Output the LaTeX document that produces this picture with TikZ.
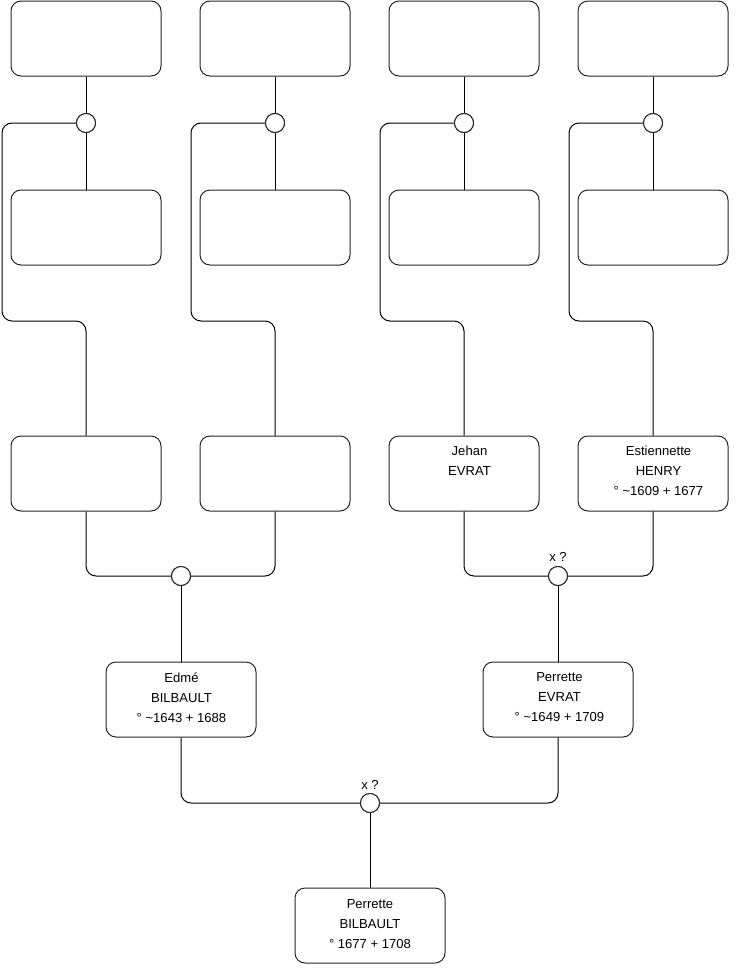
\documentclass[tikz,border=0pt]{standalone}
\usepackage{fontspec}
\setmainfont{Liberation Sans}
\usetikzlibrary{calc}
\begin{document}
\begin{tikzpicture}[x=0.75pt,y=-0.75pt,
  line width=0.75pt,
  person/.style={draw=black!85, rounded corners=7.5pt, minimum width=112.5pt, minimum height=56.25pt, inner sep=0pt, fill=white},
  union/.style={draw=black!85, circle, minimum size=14.25pt, inner sep=0pt, fill=white},
  txt/.style={anchor=north, align=center, inner sep=0pt, font=\fontsize{9.8}{15}\selectfont},
  lbl/.style={inner sep=0pt, font=\fontsize{9.8}{11}\selectfont},
  link/.style={draw=black, rounded corners=7.5pt}]
\useasboundingbox (0,0) rectangle (740,975);
% top row
\node[person] (t1) at (86,38.5) {};
\node[person] (t2) at (275,38.5) {};
\node[person] (t3) at (464,38.5) {};
\node[person] (t4) at (653,38.5) {};
% second row
\node[person] (m1) at (86,227.5) {};
\node[person] (m2) at (275,227.5) {};
\node[person] (m3) at (464,227.5) {};
\node[person] (m4) at (653,227.5) {};
% third row
\node[person] (g1) at (86,473.5) {};
\node[person] (g2) at (275,473.5) {};
\node[person] (g3) at (464,473.5) {};
\node[person] (g4) at (653,473.5) {};
% parents
\node[person] (p1) at (181,699.5) {};
\node[person] (p2) at (558,699.5) {};
% child
\node[person] (k) at (370,925.5) {};
% union circles
\node[union] (u1) at (86,123) {};
\node[union] (u2) at (275,123) {};
\node[union] (u3) at (464,123) {};
\node[union] (u4) at (653,123) {};
\node[union] (v1) at (181,576) {};
\node[union] (v2) at (558,576) {};
\node[union] (w) at (370,803) {};
% bend coordinates
\coordinate (b1) at (2,321);
\coordinate (b2) at (191,321);
\coordinate (b3) at (380,321);
\coordinate (b4) at (569,321);
% connectors top
\foreach \i in {1,2,3,4}{
  \draw[link] (t\i.south) -- (u\i.north);
  \draw[link] (u\i.south) -- (m\i.north);
  \draw[link] (u\i.west) -| (b\i) -| (g\i.north);
}
\draw[link] (g1.south) |- (v1.west);
\draw[link] (g2.south) |- (v1.east);
\draw[link] (g3.south) |- (v2.west);
\draw[link] (g4.south) |- (v2.east);
\draw[link] (v1.south) -- (p1.north);
\draw[link] (v2.south) -- (p2.north);
\draw[link] (p1.south) |- (w.west);
\draw[link] (p2.south) |- (w.east);
\draw[link] (w.south) -- (k.north);
% redraw circles on top
\foreach \n in {u1,u2,u3,u4,v1,v2,w}{\node[union] at (\n) {};}
% texts
\node[txt] (tg3) at (469.5,446) {Jehan\\EVRAT};
\node[txt] (tg4) at (658.5,446) {Estiennette\\HENRY\\° \textasciitilde1609 + 1677};
\node[txt] (tp1) at (181.5,672) {Edmé\\BILBAULT\\° \textasciitilde1643 + 1688};
\node[txt] (tp2) at (559.5,672) {Perrette\\EVRAT\\° \textasciitilde1649 + 1709};
\node[txt] (tk) at (370,899) {Perrette\\BILBAULT\\° 1677 + 1708};
\node[lbl] (x1) at (558,557) {x ?};
\node[lbl] (x2) at (370,785) {x ?};
\end{tikzpicture}
\end{document}
